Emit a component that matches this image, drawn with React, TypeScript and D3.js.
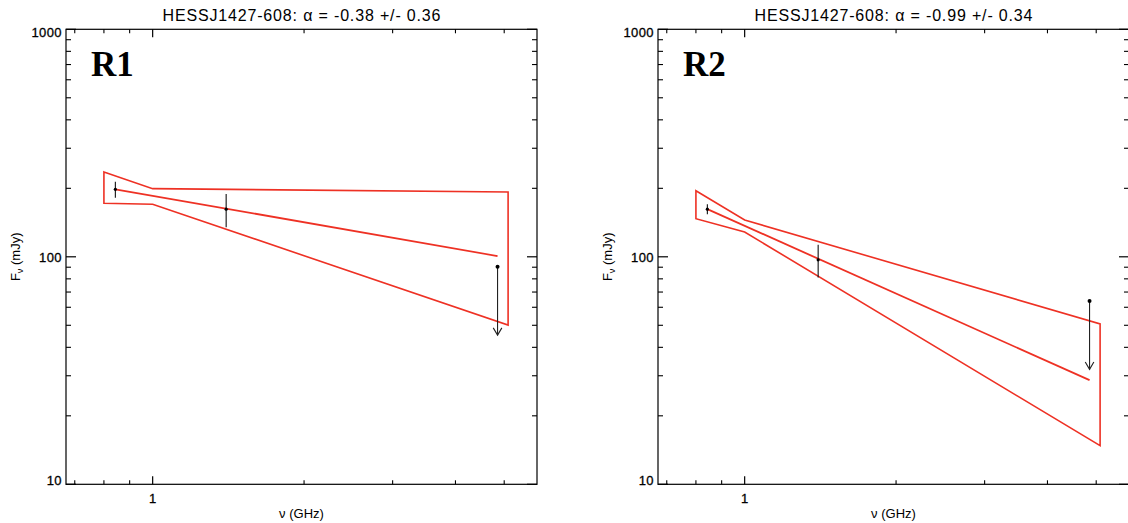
import React, { useEffect } from "react";
import * as d3 from "d3";

// ---- data ----
const titles = ["HESSJ1427-608: α = -0.38 +/- 0.36", "HESSJ1427-608: α = -0.99 +/- 0.34"];
const regionLabels = ["R1", "R2"];

const pointFreqs = [0.843, 1.4]; // GHz
const r1Flux = [198, 162];
const r1Err = [16, 27];
const r2Flux = [162, 97];
const r2Err = [8, 16];

const limitFreq = 4.85;
const r1Limit = 90.5;
const r2Limit = 64;

const fitFreqs = [0.843, 4.85];
const r1Fit = [198, 100.8];
const r2Fit = [162, 28.7];

const envFreqs = [0.8, 1.0, 5.09, 5.09, 1.0, 0.8];
const r1Env = [236, 199.3, 192.7, 50.1, 170.2, 171.9];
const r2Env = [195.2, 145.1, 50.7, 14.78, 128.5, 147.1];

const yMajorTicks = [10, 100, 1000];
const yMinorTicks = [20, 30, 40, 50, 60, 70, 80, 90, 200, 300, 400, 500, 600, 700, 800, 900];
const xMajorTicks = [1];
const xMinorTicks = [0.7, 0.8, 0.9, 2, 3, 4, 5];

const xDomain = [0.6725, 5.81];
const yDomain = [10, 1000];

const panels = [
  { flux: r1Flux, err: r1Err, limit: r1Limit, fit: r1Fit, env: r1Env },
  { flux: r2Flux, err: r2Err, limit: r2Limit, fit: r2Fit, env: r2Env },
];

const W = 1128;
const H = 523;
const PANEL_LEFT = [66, 658];
const PANEL_W = 471;
const TOP = 29.3;
const BOTTOM = 484.3;
const RED = "#ee3124";
const SANS = "'Liberation Sans', Arial, Helvetica, sans-serif";

function Panel({ i }: { i: number }) {
  const x0 = PANEL_LEFT[i];
  const x1 = x0 + PANEL_W;
  const p = panels[i];
  const x = d3.scaleLog().domain(xDomain).range([x0, x1]);
  const y = d3.scaleLog().domain(yDomain).range([BOTTOM, TOP]);
  const line = d3
    .line<[number, number]>()
    .x((d) => x(d[0]))
    .y((d) => y(d[1]));
  const envPts: [number, number][] = envFreqs.map((f, k) => [f, p.env[k]]);
  const fitPts: [number, number][] = fitFreqs.map((f, k) => [f, p.fit[k]]);
  const cx = (x0 + x1) / 2;
  const cy = (TOP + BOTTOM) / 2;

  const yLabelBaseline = (v: number) => {
    const yy = y(v);
    return Math.min(Math.max(yy + 5, TOP + 7.2), BOTTOM + 1);
  };

  const lx = x(limitFreq);
  const ly1 = y(p.limit);
  const ly2 = y(p.limit / 2);

  return (
    <g>
      {/* title */}
      <text x={cx} y={20.5} textAnchor="middle" fontFamily={SANS} fontSize={16} textLength={278} fill="#000">
        {titles[i]}
      </text>
      {/* region label */}
      <text x={x0 + 25} y={76} fontFamily="'Liberation Serif', 'Times New Roman', serif" fontWeight="bold" fontSize={35} fill="#000">
        {regionLabels[i]}
      </text>

      {/* envelope */}
      <path d={line(envPts) + "Z"} fill="none" stroke={RED} strokeWidth={1.6} strokeLinejoin="miter" />
      {/* best fit */}
      <path d={line(fitPts) || ""} fill="none" stroke={RED} strokeWidth={1.8} />

      {/* data points */}
      {pointFreqs.map((f, k) => (
        <g key={k}>
          <line x1={x(f)} x2={x(f)} y1={y(p.flux[k] + p.err[k])} y2={y(p.flux[k] - p.err[k])} stroke="#111" strokeWidth={1.1} />
          <circle cx={x(f)} cy={y(p.flux[k])} r={1.6} fill="#000" />
        </g>
      ))}
      {/* upper limit */}
      <line x1={lx} x2={lx} y1={ly1} y2={ly2} stroke="#222" strokeWidth={1.1} />
      <circle cx={lx} cy={ly1} r={2} fill="#000" />
      <path d={`M${lx - 4.3},${ly2 - 7.3}L${lx},${ly2}L${lx + 4.3},${ly2 - 7.3}`} fill="none" stroke="#222" strokeWidth={1.1} />

      {/* frame */}
      <rect x={x0} y={TOP} width={PANEL_W} height={BOTTOM - TOP} fill="none" stroke="#000" strokeWidth={1.2} />

      {/* y ticks */}
      {yMajorTicks.map((v) => (
        <g key={"ym" + v}>
          <line x1={x0} x2={x0 + 10} y1={y(v)} y2={y(v)} stroke="#000" strokeWidth={1.2} />
          <line x1={x1} x2={x1 - 10} y1={y(v)} y2={y(v)} stroke="#000" strokeWidth={1.2} />
          <text x={x0 - 4} y={yLabelBaseline(v)} textAnchor="end" fontFamily={SANS} fontSize={13} letterSpacing={0.4} stroke="#000" strokeWidth={0.3} fill="#000">
            {String(v)}
          </text>
        </g>
      ))}
      {yMinorTicks.map((v) => (
        <g key={"yn" + v}>
          <line x1={x0} x2={x0 + 5} y1={y(v)} y2={y(v)} stroke="#000" strokeWidth={1.1} />
          <line x1={x1} x2={x1 - 5} y1={y(v)} y2={y(v)} stroke="#000" strokeWidth={1.1} />
        </g>
      ))}
      {/* x ticks */}
      {xMajorTicks.map((v) => (
        <g key={"xm" + v}>
          <line x1={x(v)} x2={x(v)} y1={BOTTOM} y2={BOTTOM - 8} stroke="#000" strokeWidth={1.2} />
          <line x1={x(v)} x2={x(v)} y1={TOP} y2={TOP + 8} stroke="#000" strokeWidth={1.2} />
          <text x={x(v)} y={502.7} textAnchor="middle" fontFamily={SANS} fontSize={13} stroke="#000" strokeWidth={0.3} fill="#000">
            {String(v)}
          </text>
        </g>
      ))}
      {xMinorTicks.map((v) => (
        <g key={"xn" + v}>
          <line x1={x(v)} x2={x(v)} y1={BOTTOM} y2={BOTTOM - 4} stroke="#000" strokeWidth={1.1} />
          <line x1={x(v)} x2={x(v)} y1={TOP} y2={TOP + 4} stroke="#000" strokeWidth={1.1} />
        </g>
      ))}

      {/* axis titles */}
      <text x={cx} y={518} textAnchor="middle" fontFamily={SANS} fontSize={13} fill="#000">
        ν (GHz)
      </text>
      <text transform={`translate(${x0 - 46},${cy}) rotate(-90)`} textAnchor="middle" fontFamily={SANS} fontSize={13} fill="#000">
        F<tspan fontSize={9} dy={3}>ν</tspan>
        <tspan dy={-3}> (mJy)</tspan>
      </text>
    </g>
  );
}

export default function App() {
  useEffect(() => {
    document.body.style.margin = "0";
  }, []);
  return (
    <svg width={W} height={H} viewBox={`0 0 ${W} ${H}`} style={{ display: "block", background: "#fff" }}>
      <rect x={0} y={0} width={W} height={H} fill="#fff" />
      <Panel i={0} />
      <Panel i={1} />
    </svg>
  );
}
